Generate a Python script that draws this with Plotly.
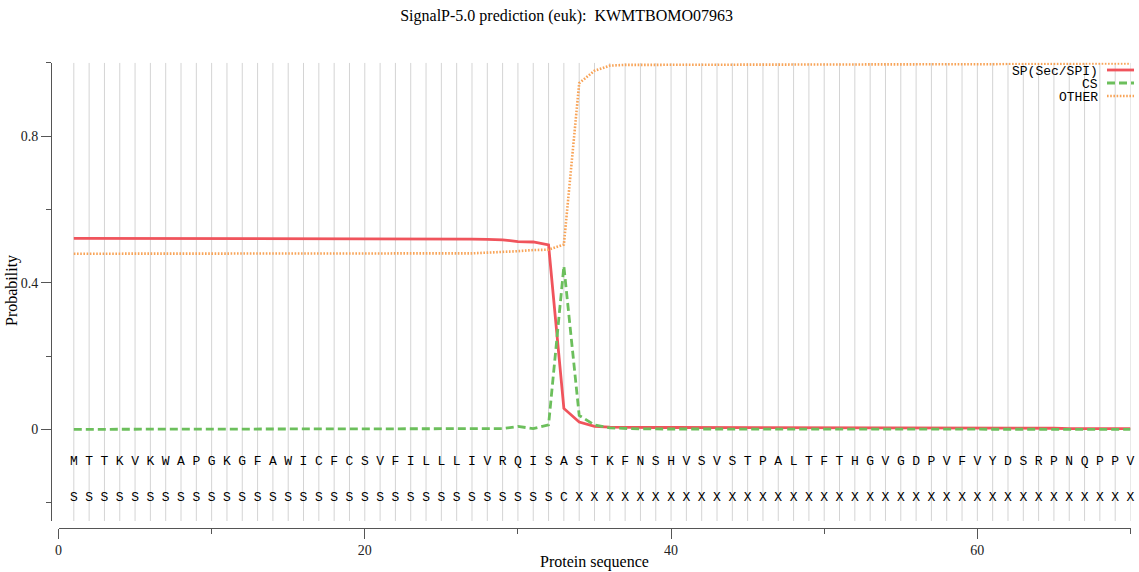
import plotly.graph_objects as go

# ---------------- data ----------------
positions = list(range(1, 71))
residues = list("MTTKVKWAPGKGFAWICFCSVFILLLIVRQISASTKFNSHVSVSTPALTFTHGVGDPVFVYDSRPNQPPV")
labels = list("S" * 32 + "C" + "X" * 37)

sp = [0.521] * 20 + [0.520] * 6 + [0.519, 0.518, 0.517, 0.512, 0.511, 0.503,
      0.057, 0.020, 0.008, 0.006, 0.005] + [0.005] * 8 + [0.004] * 10 + [0.003] * 10 + [0.002] * 5
cs = [0.0] * 28 + [0.002, 0.008, 0.002, 0.012, 0.445, 0.038, 0.012, 0.004, 0.002] + [0.001] * 8 + [0.0] * 25
other = [0.479] * 20 + [0.480] * 7 + [0.482, 0.483, 0.486, 0.489, 0.490, 0.504,
         0.944, 0.978, 0.992, 0.994] + [0.994] * 8 + [0.995] * 8 + [0.996] * 8 + [0.997] * 5 + [0.998] * 4 + [0.999] * 3

series_names = ["SP(Sec/SPI)", "CS", "OTHER"]
series_values = [sp, cs, other]
series_colors = ["#f0545c", "#6cbf5c", "#f8a458"]
series_dash = ["solid", "8px,4px", "1.6px,1.6px"]
series_width = [2.8, 2.8, 2.6]

y_tick_text_major = ["0", "0.4", "0.8"]

W, H = 1139, 572

# ---------------- figure ----------------
fig = go.Figure()

# residue grid lines
gx, gy = [], []
for p in positions:
    gx += [p, p, None]
    gy += [-0.25, 1.0, None]
fig.add_trace(go.Scatter(x=gx, y=gy, mode="lines", line=dict(color="#d4d4d4", width=1),
                         hoverinfo="skip", showlegend=False))

for name, vals, col, dash, w in zip(series_names, series_values, series_colors, series_dash, series_width):
    fig.add_trace(go.Scatter(x=positions, y=vals, mode="lines", name=name,
                             line=dict(color=col, dash=dash, width=w), showlegend=False))

for row, yv in ((residues, -0.088), (labels, -0.186)):
    fig.add_trace(go.Scatter(x=positions, y=[yv] * len(positions), mode="text", text=row,
                             textposition="middle center", cliponaxis=False,
                             textfont=dict(family="Liberation Mono", size=13, color="#000000"),
                             hoverinfo="skip", showlegend=False))

axis_col = "#555555"
tickfont = dict(family="Liberation Serif", size=14, color="#222222")

fig.update_layout(
    width=W, height=H,
    margin=dict(l=0, r=0, t=0, b=0),
    paper_bgcolor="white", plot_bgcolor="white",
    title=dict(text="SignalP-5.0 prediction (euk):  KWMTBOMO07963", x=0.4975, xanchor="center",
               y=(H - 15) / H, yanchor="middle",
               font=dict(family="Liberation Serif", size=16, color="#000000")),
    xaxis=dict(domain=[58.5 / W, 1130.5 / W], range=[0, 70], anchor="free", position=(H - 527.5) / H,
               showgrid=False, zeroline=False, showline=True, linecolor=axis_col, linewidth=1,
               tickmode="linear", tick0=0, dtick=20, ticks="outside", ticklen=10, tickcolor=axis_col,
               tickfont=tickfont, automargin=False,
               minor=dict(tick0=0, dtick=10, ticks="outside", ticklen=5, tickcolor=axis_col, showgrid=False)),
    yaxis=dict(domain=[(H - 521) / H, (H - 62.7) / H], range=[-0.25, 1.0], anchor="free", position=51 / W,
               showgrid=False, zeroline=False, showline=True, linecolor=axis_col, linewidth=1,
               tickmode="array", tickvals=[0, 0.4, 0.8], ticktext=y_tick_text_major,
               ticks="outside", ticklen=10, tickcolor=axis_col,
               tickfont=tickfont, automargin=False,
               minor=dict(tickmode="array", tickvals=[-0.2, 0.2, 0.6, 1.0], ticks="outside", ticklen=5,
                          tickcolor=axis_col, showgrid=False)),
    showlegend=False,
)

annotations = [
    dict(text="Protein sequence", x=594.5 / W, y=(H - 562) / H, xref="paper", yref="paper",
         xanchor="center", yanchor="middle", showarrow=False,
         font=dict(family="Liberation Serif", size=16, color="#000000")),
    dict(text="Probability", x=12 / W, y=(H - 291) / H, xref="paper", yref="paper",
         xanchor="center", yanchor="middle", textangle=-90, showarrow=False,
         font=dict(family="Liberation Serif", size=16, color="#000000")),
]
shapes = []
legend_rows = [71.5, 84.5, 97.5]
for name, col, dash, w, yr in zip(series_names, series_colors, series_dash, series_width, legend_rows):
    annotations.append(dict(text=name, x=1100 / W, y=(H - yr) / H, xref="paper", yref="paper",
                            xanchor="right", yanchor="middle", showarrow=False,
                            font=dict(family="Liberation Mono", size=13, color="#000000")))
    shapes.append(dict(type="line", xref="paper", yref="paper", x0=1107 / W, x1=1134 / W,
                       y0=(H - yr + 1.5) / H, y1=(H - yr + 1.5) / H,
                       line=dict(color=col, dash=dash, width=w)))
fig.update_layout(annotations=annotations, shapes=shapes)

fig.write_html("out.html", config={"displayModeBar": False},
               post_script="document.body.style.margin='0';document.body.style.padding='0';"
                           "document.body.style.overflow='hidden';")
